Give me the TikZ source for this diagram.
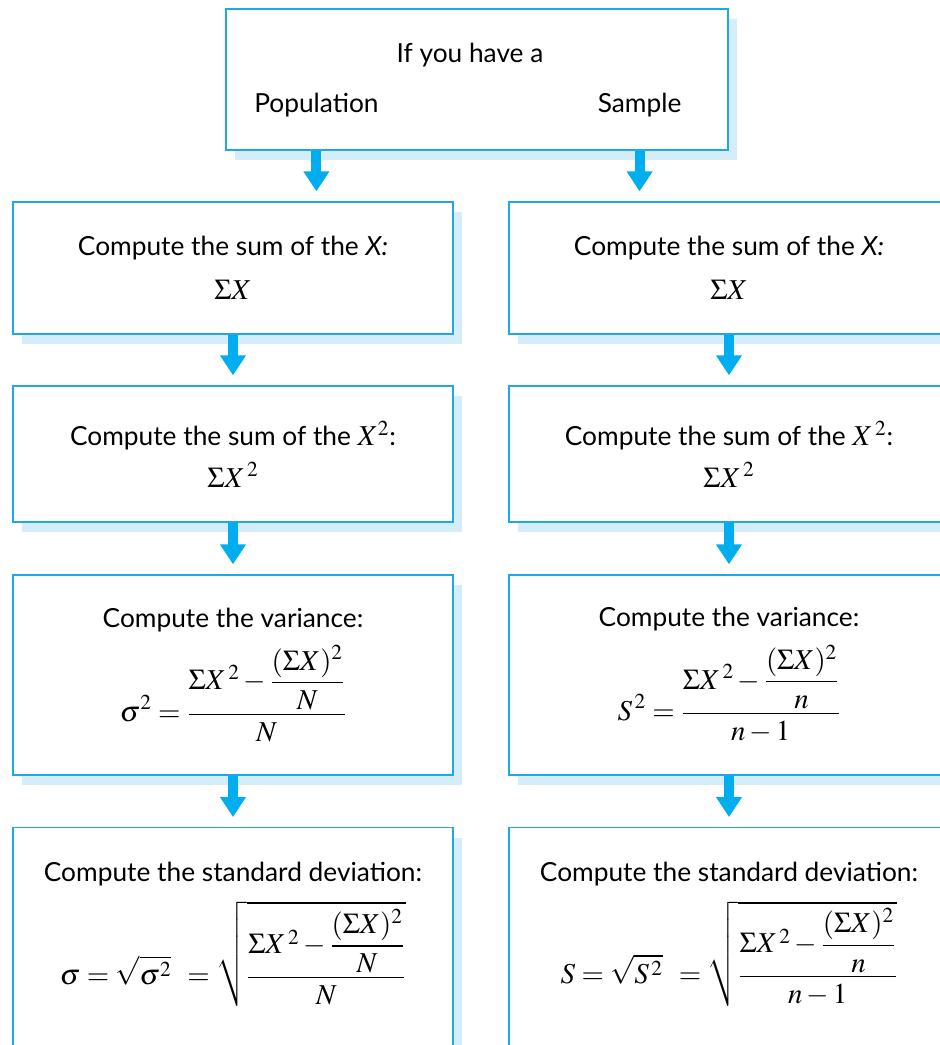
\documentclass[tikz,border=0pt]{standalone}
\usepackage{amsmath}
\usepackage{mathptmx}
\usepackage[no-math]{fontspec}
\setmainfont{Lato}
\usepackage{tikz}
\usetikzlibrary{arrows.meta,positioning,calc,shadows}
\definecolor{boxblue}{HTML}{1FA9E4}
\definecolor{arrowblue}{HTML}{00AEEF}
\definecolor{shadeblue}{HTML}{D5ECF9}
\newcommand{\eqsize}{\fontsize{20.5}{24}\selectfont}

\begin{document}
\begin{tikzpicture}[
    stepbox/.style={draw=boxblue, line width=1pt, fill=white, minimum width=11cm, align=center, font=\fontsize{18.7}{22.4}\selectfont, drop shadow={shadow xshift=0.22cm, shadow yshift=-0.25cm, fill=shadeblue, opacity=1}},
    topbox/.style={stepbox, minimum width=12.55cm, minimum height=3.525cm},
    word/.style={font=\fontsize{18.7}{22.4}\selectfont, anchor=base},
    flow/.style={draw=arrowblue, line width=0.25cm, -{Triangle[length=0.5cm, width=0.62cm]}, shorten >=0.25cm}
]
\useasboundingbox (0,0) rectangle (23.5,-26.125);

% top decision box
\node[topbox] (have) at (11.925,-1.99) {};
\node[word] (ask) at (11.75,-1.575) {If you have a};
\node[word] (pop) at (7.91,-2.8) {Population};
\node[word] (smp) at (15.99,-2.8) {Sample};

% population column
\node[stepbox, minimum height=3.3cm] (p1) at (5.825,-6.7) {Compute the sum of the \textit{X:}\\[0.3cm]{\eqsize$\Sigma X$}};
\node[stepbox, minimum height=3.4cm] (p2) at (5.825,-11.35) {Compute the sum of the {\eqsize$X^2$}:\\[0.25cm]{\eqsize$\Sigma X^{\,2}$}};
\node[stepbox, minimum height=5cm] (p3) at (5.825,-16.875) {Compute the variance:\\[0.3cm]{\eqsize$\displaystyle \sigma^2 = \frac{\Sigma X^{\,2} - \dfrac{(\Sigma X)^2}{N}}{N}$}};
\node[stepbox, minimum height=7cm, anchor=north] (p4) at (5.825,-20.675) {};
\node[word, anchor=north, align=center] (p4t) at ($(p4.north)+(0,-0.75)$) {Compute the standard deviation:\\[0.35cm]{\eqsize$\displaystyle \sigma = \sqrt{\sigma^2}\;\, = \sqrt{\frac{\Sigma X^{\,2} - \dfrac{(\Sigma X)^2}{N}}{N}}$}};

% sample column
\node[stepbox, minimum height=3.3cm] (s1) at (18.225,-6.7) {Compute the sum of the \textit{X:}\\[0.3cm]{\eqsize$\Sigma X$}};
\node[stepbox, minimum height=3.4cm] (s2) at (18.225,-11.35) {Compute the sum of the {\eqsize$X^{\,2}$}:\\[0.25cm]{\eqsize$\Sigma X^{\,2}$}};
\node[stepbox, minimum height=5cm] (s3) at (18.225,-16.875) {Compute the variance:\\[0.3cm]{\eqsize$\displaystyle S^{\,2} = \frac{\Sigma X^{\,2} - \dfrac{(\Sigma X)^2}{n}}{n-1}$}};
\node[stepbox, minimum height=7cm, anchor=north] (s4) at (18.225,-20.675) {};
\node[word, anchor=north, align=center] (s4t) at ($(s4.north)+(0,-0.75)$) {Compute the standard deviation:\\[0.35cm]{\eqsize$\displaystyle S = \sqrt{S^{\,2}}\;\, = \sqrt{\frac{\Sigma X^{\,2} - \dfrac{(\Sigma X)^2}{n}}{n-1}}$}};

% arrows
\draw[flow] (pop |- have.south) -- (pop |- p1.north);
\draw[flow] (smp |- have.south) -- (smp |- s1.north);
\draw[flow] (p1) -- (p2);
\draw[flow] (p2) -- (p3);
\draw[flow] (p3) -- (p4);
\draw[flow] (s1) -- (s2);
\draw[flow] (s2) -- (s3);
\draw[flow] (s3) -- (s4);
\end{tikzpicture}
\end{document}
